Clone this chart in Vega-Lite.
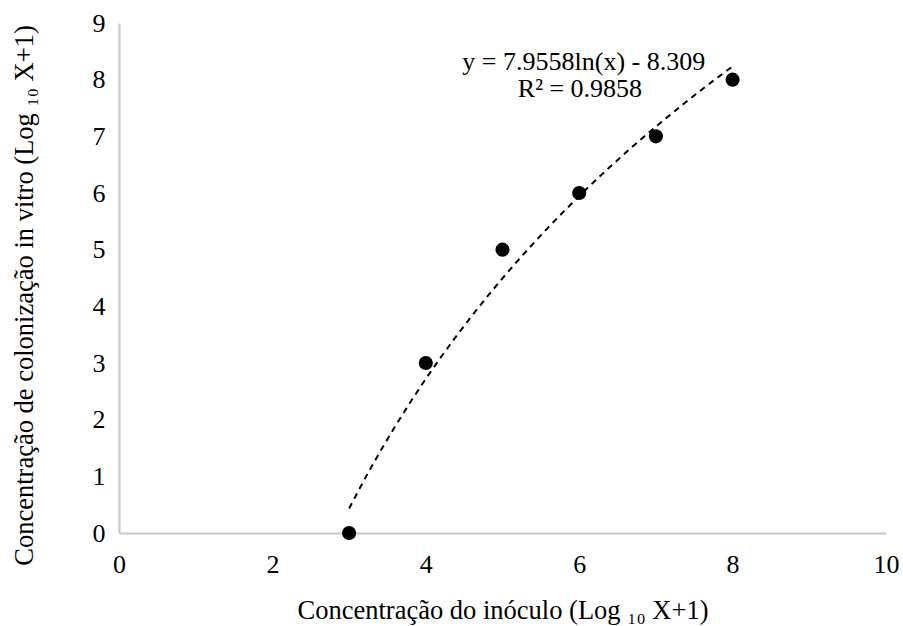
{
  "$schema": "https://vega.github.io/schema/vega-lite/v6.json",
  "width": 767,
  "height": 510,
  "autosize": {"type": "none"},
  "padding": {"left": 119, "top": 23, "right": 17, "bottom": 93},
  "background": "white",
  "config": {
    "view": {"stroke": null},
    "font": "Liberation Serif",
    "axis": {
      "labelFont": "Liberation Serif",
      "titleFont": "Liberation Serif",
      "labelFontSize": 26,
      "titleFontSize": 26.5,
      "labelColor": "#000000",
      "titleColor": "#000000",
      "titleFontWeight": "normal",
      "labelFlush": false,
      "labelOverlap": false,
      "grid": false,
      "ticks": false,
      "domainColor": "#c8c8c8",
      "domainWidth": 2
    }
  },
  "data": {
    "values": [
      {"inoculo": 3, "colonizacao": 0},
      {"inoculo": 4, "colonizacao": 3},
      {"inoculo": 5, "colonizacao": 5},
      {"inoculo": 6, "colonizacao": 6},
      {"inoculo": 7, "colonizacao": 7},
      {"inoculo": 8, "colonizacao": 8}
    ]
  },
  "layer": [
    {
      "transform": [
        {"regression": "colonizacao", "on": "inoculo", "method": "log", "extent": [3, 8]}
      ],
      "mark": {"type": "line", "color": "#000000", "strokeWidth": 2, "strokeDash": [6, 5], "clip": true},
      "encoding": {
        "x": {"field": "inoculo", "type": "quantitative"},
        "y": {"field": "colonizacao", "type": "quantitative"}
      }
    },
    {
      "mark": {"type": "point", "filled": true, "color": "#000000", "opacity": 1, "size": 200},
      "encoding": {
        "x": {
          "field": "inoculo",
          "type": "quantitative",
          "scale": {"domain": [0, 10], "nice": false},
          "axis": {"values": [0, 2, 4, 6, 8, 10], "format": "d", "labelPadding": 18, "title": "Concentração do inóculo (Log ₁₀ X+1)", "titlePadding": 20}
        },
        "y": {
          "field": "colonizacao",
          "type": "quantitative",
          "scale": {"domain": [0, 9], "nice": false},
          "axis": {"values": [0, 1, 2, 3, 4, 5, 6, 7, 8, 9], "format": "d", "labelPadding": 14, "title": "Concentração de colonização in vitro (Log ₁₀ X+1)", "titlePadding": 54, "titleY": 272}
        }
      }
    },
    {
      "data": {"values": [{"label": "y = 7.9558ln(x) - 8.309"}]},
      "mark": {"type": "text", "fontSize": 26, "font": "Liberation Serif", "color": "#000000", "align": "center", "baseline": "middle"},
      "encoding": {
        "x": {"datum": 6.06, "type": "quantitative"},
        "y": {"datum": 8.31, "type": "quantitative"},
        "text": {"field": "label"}
      }
    },
    {
      "data": {"values": [{"label": "R² = 0.9858"}]},
      "mark": {"type": "text", "fontSize": 26, "font": "Liberation Serif", "color": "#000000", "align": "center", "baseline": "middle"},
      "encoding": {
        "x": {"datum": 6.01, "type": "quantitative"},
        "y": {"datum": 7.83, "type": "quantitative"},
        "text": {"field": "label"}
      }
    }
  ]
}
